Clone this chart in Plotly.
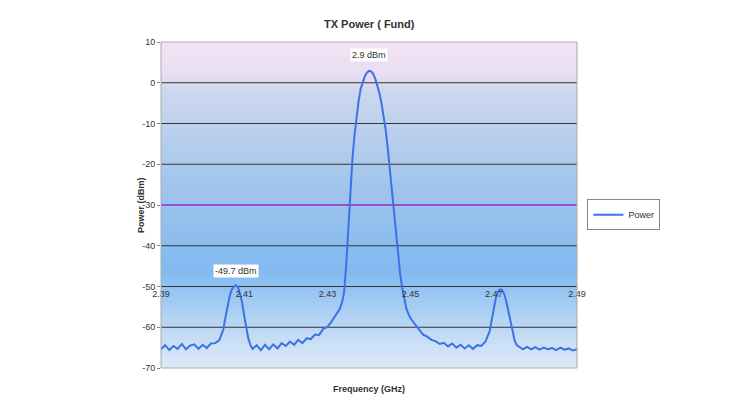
import plotly.graph_objects as go

freq = [2.390,2.391,2.392,2.393,2.394,2.395,2.396,2.397,2.398,2.399,2.400,2.401,2.402,2.403,2.404,2.405,2.4055,2.406,2.4065,2.407,2.4075,2.408,2.4085,2.409,2.4095,2.410,2.4105,2.411,2.4115,2.412,
        2.413,2.414,2.415,2.416,2.417,2.418,2.419,2.420,2.421,2.422,2.423,2.424,2.425,2.426,2.427,2.428,2.429,2.430,2.431,
        2.432,2.433,2.4335,2.434,2.4345,2.435,2.4355,2.436,2.4365,2.437,2.4375,2.438,2.4385,2.439,2.4395,2.440,2.4405,2.441,2.4415,2.442,2.4425,2.443,2.4435,2.444,2.4445,2.445,2.4455,2.446,2.4465,2.447,2.4475,2.448,2.4485,2.449,2.4495,2.450,2.451,
        2.452,2.453,2.454,2.455,2.456,2.457,2.458,2.459,2.460,2.461,2.462,2.463,2.464,2.465,2.466,2.467,2.468,
        2.469,2.4695,2.470,2.4705,2.471,2.4715,2.472,2.4725,2.473,2.4735,2.474,2.4745,2.475,2.4755,2.476,2.477,
        2.478,2.479,2.480,2.481,2.482,2.483,2.484,2.485,2.486,2.487,2.488,2.489,2.490]
power = [-65.4,-64.4,-65.6,-64.6,-65.3,-64.1,-65.4,-64.5,-64.2,-65.3,-64.3,-65.1,-64.0,-63.9,-63.2,-60.5,-57.5,-54.8,-52.4,-50.8,-50.0,-49.7,-50.2,-51.8,-54.0,-57.2,-60.3,-62.8,-64.4,-65.3,
         -64.4,-65.6,-64.3,-65.4,-64.2,-65.2,-63.9,-64.6,-63.5,-64.3,-63.1,-63.9,-62.7,-62.9,-61.8,-61.9,-60.4,-59.9,-58.6,
         -57.2,-55.5,-54.0,-51.5,-45.0,-36.0,-27.0,-19.0,-13.0,-8.0,-4.5,-1.5,0.3,1.6,2.5,2.9,2.8,2.2,1.0,-0.5,-2.5,-5.0,-8.0,-11.5,-16.0,-21.0,-26.5,-32.0,-37.5,-42.5,-47.0,-50.5,-53.5,-55.5,-56.8,-57.8,-59.2,
         -60.6,-61.8,-62.3,-63.1,-63.4,-64.1,-63.8,-64.7,-64.0,-65.0,-64.3,-65.2,-64.4,-65.3,-64.4,-64.6,-63.5,
         -61.0,-58.2,-55.2,-52.8,-51.3,-50.7,-50.9,-51.8,-53.6,-56.0,-58.8,-61.4,-63.2,-64.4,-64.7,-65.4,
         -64.8,-65.4,-64.9,-65.5,-65.0,-65.4,-65.1,-65.6,-65.0,-65.5,-65.2,-65.7,-65.4]
y_ticks = [10,0,-10,-20,-30,-40,-50,-60,-70]
x_ticks = [2.39,2.41,2.43,2.45,2.47,2.49]

stops = [(0.0,(222,234,248)),(0.12,(190,216,244)),(0.3,(130,186,240)),(0.55,(160,196,236)),(0.85,(205,215,238)),(0.9,(232,222,242)),(1.0,(246,226,244))]
def col(f):
    for (a,ca),(b,cb) in zip(stops,stops[1:]):
        if a<=f<=b:
            t=(f-a)/(b-a)
            return "rgb(%d,%d,%d)"%tuple(round(ca[i]+(cb[i]-ca[i])*t) for i in range(3))
    return "rgb(246,226,244)"

shapes=[]
n=80
for i in range(n):
    shapes.append(dict(type="rect",xref="x domain",yref="y domain",x0=0,x1=1,y0=i/n,y1=min(1,(i+1.6)/n),
                       fillcolor=col((i+0.5)/n),line_width=0,layer="below"))
for v in y_ticks:
    if v in (10,-70): continue
    shapes.append(dict(type="line",xref="x domain",yref="y",x0=0,x1=1,y0=v,y1=v,
                       line=dict(color="#9b4fd8" if v==-30 else "#333",width=2 if v==-30 else 1),layer="below"))
shapes.append(dict(type="rect",xref="x domain",yref="y domain",x0=0,x1=1,y0=0,y1=1,line=dict(color="#aaa",width=1)))

fig=go.Figure()
fig.add_trace(go.Scatter(x=freq,y=power,mode="lines",name="Power",line=dict(color="#3d72e6",width=2)))
fig.update_layout(
    width=746,height=412,margin=dict(l=153,r=177,t=34,b=52),
    paper_bgcolor="white",plot_bgcolor="white",shapes=shapes,showlegend=True,
    font=dict(family="Liberation Sans, Arial",size=9,color="#333"),
    legend=dict(x=1.025,y=0.47,xanchor="left",yanchor="middle",bordercolor="#888",borderwidth=1,bgcolor="white",
                font=dict(size=9),itemwidth=30,tracegroupgap=0),
    xaxis=dict(range=[2.39,2.49],tickvals=x_ticks,ticktext=[str(v) for v in x_ticks],showgrid=False,
               anchor="free",position=0.25,showline=False,ticks="",zeroline=False),
    yaxis=dict(range=[-70,10],tickvals=y_ticks,ticktext=[str(v) for v in y_ticks],showgrid=False,zeroline=False,
               ticks="outside",ticklen=3,tickcolor="#888"),
    annotations=[
        dict(text="<b>TX Power ( Fund)</b>",xref="paper",yref="paper",x=0.5,y=1.08,showarrow=False,font=dict(size=11)),
        dict(text="<b>Frequency (GHz)</b>",xref="paper",yref="paper",x=0.5,y=-0.085,showarrow=False,font=dict(size=9)),
        dict(text="<b>Power (dBm)</b>",xref="paper",yref="paper",x=-0.065,y=0.5,textangle=-90,showarrow=False,font=dict(size=9)),
        dict(text="2.9 dBm",x=2.440,y=2.9,yshift=16,showarrow=False,bgcolor="white",font=dict(size=9)),
        dict(text="-49.7 dBm",x=2.408,y=-49.7,yshift=14,showarrow=False,bgcolor="white",font=dict(size=9)),
    ])
fig.write_html("out.html")
